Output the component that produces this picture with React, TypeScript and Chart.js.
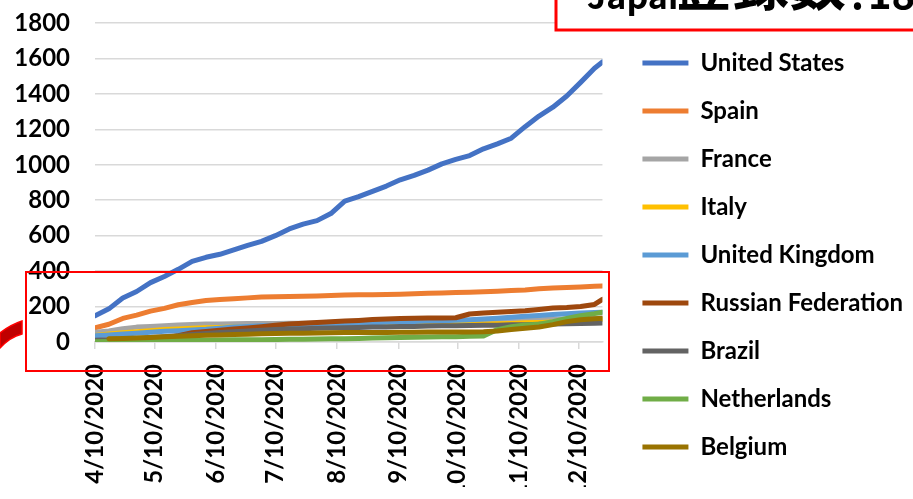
import React, { useEffect, useRef } from "react";
import { Chart, registerables } from "chart.js";

Chart.register(...registerables);

// Day offsets from 4/10/2020 for each sampled point
const days = [0, 7, 14, 21, 28, 35, 42, 49, 56, 63, 70, 77, 84, 91, 98, 105, 112, 119, 126, 133, 140, 147, 154, 161, 168, 175, 182, 189, 196, 203, 210, 217, 224, 231, 238, 245, 252, 256];

const tickDays = [0, 30, 61, 91, 122, 153, 183, 214, 244];
const tickLabels = ["4/10/2020", "5/10/2020", "6/10/2020", "7/10/2020", "8/10/2020", "9/10/2020", "10/10/2020", "11/10/2020", "12/10/2020"];
const yTicks = [0, 200, 400, 600, 800, 1000, 1200, 1400, 1600, 1800];

const seriesNames = ["United States", "Spain", "France", "Italy", "United Kingdom", "Russian Federation", "Brazil", "Netherlands", "Belgium"];
const seriesColors = ["#4472C4", "#ED7D31", "#A5A5A5", "#FFC000", "#5B9BD5", "#9E480E", "#636363", "#70AD47", "#997300"];

const unitedStates = [148, 187, 248, 285, 335, 370, 410, 455, 478, 495, 520, 545, 568, 600, 638, 665, 685, 725, 795, 820, 850, 880, 915, 940, 970, 1005, 1030, 1052, 1090, 1118, 1150, 1215, 1275, 1325, 1388, 1465, 1545, 1580];
const spain = [80, 100, 133, 152, 174, 190, 210, 223, 234, 240, 244, 249, 254, 256, 257, 258, 260, 263, 265, 266, 267, 268, 270, 272, 275, 277, 279, 281, 283, 286, 290, 294, 300, 305, 307, 310, 314, 316];
const france = [55, 62, 75, 84, 88, 92, 96, 99, 101, 102, 103, 104, 105, 105, 106, 106, 107, 107, 108, 108, 109, 110, 111, 112, 113, 114, 115, 116, 118, 120, 122, 124, 126, 128, 130, 132, 134, 135];
const italy = [36, 45, 52, 58, 64, 70, 74, 78, 80, 82, 84, 85, 86, 87, 88, 89, 90, 91, 92, 93, 94, 95, 96, 97, 98, 99, 100, 101, 102, 103, 105, 108, 110, 113, 116, 120, 124, 127];
const unitedKingdom = [35, 40, 45, 50, 55, 60, 64, 68, 72, 78, 84, 88, 91, 93, 95, 97, 98, 99, 101, 105, 109, 111, 113, 115, 118, 120, 123, 126, 130, 134, 139, 145, 150, 155, 159, 163, 166, 168];
const russia = [0, 1, 3, 6, 12, 22, 35, 52, 60, 67, 73, 79, 86, 94, 101, 106, 110, 114, 118, 122, 127, 130, 132, 134, 135, 136, 137, 158, 164, 168, 172, 176, 184, 192, 195, 200, 212, 241];
const brazil = [10, 12, 15, 20, 25, 30, 36, 42, 48, 53, 58, 62, 66, 70, 73, 75, 77, 79, 80, 82, 84, 85, 87, 88, 90, 91, 92, 93, 94, 95, 97, 98, 100, 101, 103, 104, 106, 107];
const netherlands = [2, 3, 4, 5, 6, 7, 8, 9, 10, 11, 12, 13, 13, 14, 15, 16, 17, 18, 19, 20, 22, 24, 26, 27, 28, 29, 30, 32, 34, 70, 86, 96, 100, 115, 133, 148, 160, 168];
const belgium = [null, 18, 20, 23, 26, 29, 32, 35, 38, 40, 42, 44, 46, 48, 49, 50, 51, 52, 53, 53, 54, 54, 55, 55, 56, 56, 57, 57, 58, 62, 70, 78, 85, 98, 115, 126, 131, 134];

const seriesValues = [unitedStates, spain, france, italy, unitedKingdom, russia, brazil, netherlands, belgium];

const W = 913;
const H = 499;
const PAD_TOP = 23;
const PAD_BOTTOM = 12;
const AXIS_Y = 342;
const FONT = "Lato, 'Noto Sans', sans-serif";

const overlayPlugin = {
  id: "overlay",
  afterDraw(chart: any) {
    const ctx = chart.ctx;
    ctx.save();
    // red highlight rectangle
    ctx.strokeStyle = "#FF0000";
    ctx.lineWidth = 2;
    ctx.strokeRect(26, 272, 583, 99);

    // red curved arrow fragment at left
    ctx.beginPath();
    ctx.moveTo(0, 333);
    ctx.quadraticCurveTo(10, 325, 22, 321);
    ctx.lineTo(22, 334);
    ctx.quadraticCurveTo(10, 337, 0, 348);
    ctx.closePath();
    ctx.fillStyle = "#C00000";
    ctx.fill();
    ctx.strokeStyle = "#FF0000";
    ctx.lineWidth = 1.5;
    ctx.stroke();

    // title box at top-right (cut off)
    ctx.fillStyle = "#FFFFFF";
    ctx.fillRect(556, -20, 400, 50);
    ctx.strokeStyle = "#FF0000";
    ctx.lineWidth = 3;
    ctx.strokeRect(556, -20, 400, 50);
    ctx.fillStyle = "#000000";
    ctx.textBaseline = "alphabetic";
    ctx.textAlign = "left";
    ctx.font = "bold 34px 'Noto Sans CJK JP', 'Noto Sans', sans-serif";
    ctx.fillText("Japan", 587, 9);
    ctx.font = "bold 57px 'Noto Sans CJK JP', sans-serif";
    ctx.fillText("登録数", 675, 5);
    ctx.font = "bold 40px 'Noto Sans CJK JP', 'Noto Sans', sans-serif";
    ctx.fillText(":", 851, 9);
    ctx.fillText("18", 868, 9);
    ctx.restore();
  },
};

export default function App() {
  const canvasRef = useRef<HTMLCanvasElement | null>(null);

  useEffect(() => {
    if (!canvasRef.current) return;
    const datasets = seriesNames.map((name, i) => ({
      label: name,
      data: days.map((d, j) => ({ x: d, y: seriesValues[i][j] })),
      borderColor: seriesColors[i],
      backgroundColor: seriesColors[i],
      borderWidth: 5,
      pointRadius: 0,
      pointHoverRadius: 0,
      borderCapStyle: "round",
      borderJoinStyle: "round",
      tension: 0,
      spanGaps: false,
      order: seriesNames.length - i,
      xAxisID: "x",
      yAxisID: "y",
    }));

    const chart = new Chart(canvasRef.current, {
      type: "line",
      data: { datasets: datasets as any },
      plugins: [overlayPlugin],
      options: {
        animation: false,
        responsive: false,
        maintainAspectRatio: false,
        events: [],
        layout: { padding: { top: PAD_TOP, bottom: PAD_BOTTOM, left: 0, right: 0 } },
        plugins: {
          tooltip: { enabled: false },
          title: { display: false },
          legend: {
            display: true,
            position: "right",
            align: "center",
            maxWidth: 297,
            labels: {
              usePointStyle: true,
              pointStyle: "line",
              pointStyleWidth: 46,
              padding: 24,
              color: "#000000",
              font: { family: FONT, size: 24, weight: "bold" },
              sort: (a: any, b: any) => a.datasetIndex - b.datasetIndex,
            },
          },
        },
        scales: {
          x: {
            type: "linear",
            min: 0,
            max: 256,
            afterBuildTicks: (s: any) => {
              s.ticks = tickDays.map((v) => ({ value: v }));
            },
            afterFit: (s: any) => {
              s.height = H - PAD_BOTTOM - AXIS_Y;
            },
            ticks: {
              autoSkip: false,
              maxRotation: 90,
              minRotation: 90,
              padding: 15,
              color: "#000000",
              font: { family: FONT, size: 24, weight: "bold" },
              callback: (_v: any, i: number) => tickLabels[i],
            },
            grid: {
              display: true,
              drawOnChartArea: false,
              drawTicks: true,
              tickLength: 7,
              color: "#D9D9D9",
              lineWidth: 1.5,
            },
            border: { display: true, color: "#D9D9D9", width: 1.5 },
          },
          y: {
            type: "linear",
            position: "left",
            min: 0,
            max: 1800,
            afterBuildTicks: (s: any) => {
              s.ticks = yTicks.map((v) => ({ value: v }));
            },
            afterFit: (s: any) => {
              s.width = 95;
              s.paddingTop = 0;
              s.paddingBottom = 0;
            },
            ticks: {
              padding: 25,
              color: "#000000",
              font: { family: FONT, size: 24, weight: "bold" },
              callback: (v: any) => String(v),
            },
            grid: {
              color: "#D9D9D9",
              lineWidth: 1.5,
              drawTicks: false,
            },
            border: { display: false },
          },
          y2: {
            type: "linear",
            position: "right",
            display: true,
            afterFit: (s: any) => {
              s.width = 16;
              s.paddingTop = 0;
              s.paddingBottom = 0;
            },
            ticks: { display: false },
            grid: { display: false, drawOnChartArea: false, drawTicks: false },
            border: { display: false },
          },
        },
      },
    });
    return () => chart.destroy();
  }, []);

  return (
    <div style={{ position: "absolute", left: 0, top: 0, width: W, height: H, background: "#FFFFFF" }}>
      <canvas ref={canvasRef} width={W} height={H} style={{ display: "block" }} />
    </div>
  );
}
